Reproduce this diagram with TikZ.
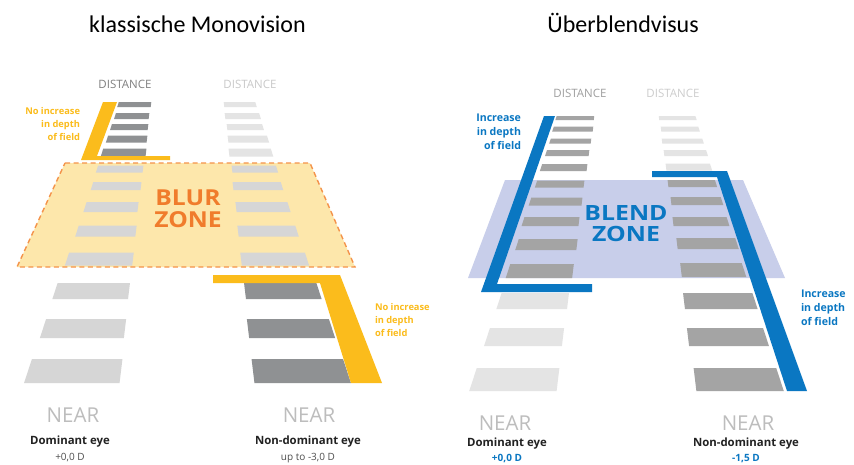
\documentclass[tikz,border=0pt]{standalone}
\usepackage{fontspec}
\usepackage{graphicx}
\setmainfont{Open Sans}
\newfontfamily\titlefont{Carlito}

\definecolor{barDark}{HTML}{8F9193}
\definecolor{barMid}{HTML}{A4A4A4}
\definecolor{barLight}{HTML}{D6D6D6}
\definecolor{barFaint}{HTML}{E4E4E4}
\definecolor{blurFill}{HTML}{FDE7AB}
\definecolor{blurEdge}{HTML}{F4934A}
\definecolor{blurText}{HTML}{F07C2C}
\definecolor{lensYellow}{HTML}{FBBC1C}
\definecolor{lensBlue}{HTML}{0A77C2}
\definecolor{blendFill}{HTML}{C8CEEA}
\definecolor{nearGray}{HTML}{BDBDBD}
\definecolor{labelDark}{HTML}{222222}

% perspective strip of the left-hand column: x-left, x-right, y-centre, height, colour
\newcommand\stripL[5]{%
  \fill[#5] ({#1+0.165*#4},{#3-#4/2}) -- ({#2+0.06*#4},{#3-#4/2})
    -- ({#2-0.06*#4},{#3+#4/2}) -- ({#1-0.165*#4},{#3+#4/2}) -- cycle;}
% perspective strip of the right-hand column
\newcommand\stripR[5]{%
  \fill[#5] ({#1-0.06*#4},{#3-#4/2}) -- ({#2-0.165*#4},{#3-#4/2})
    -- ({#2+0.165*#4},{#3+#4/2}) -- ({#1+0.06*#4},{#3+#4/2}) -- cycle;}
% widened capitals of the zone captions
\newcommand\wide[2]{\scalebox{#1}[1]{#2}}

\tikzset{
  txt/.style={inner sep=0pt, outer sep=0pt},
  title/.style={txt, anchor=base, font=\titlefont\fontsize{24}{28}\selectfont, text=black},
  dist/.style={txt, font=\fontsize{11.5}{13}\selectfont},
  near/.style={txt, font=\fontsize{20.5}{24}\selectfont, text=nearGray},
  eye/.style={txt, font=\bfseries\fontsize{11.4}{13}\selectfont, text=labelDark},
  power/.style={txt, anchor=base, font=\fontsize{10}{12}\selectfont},
  depthY/.style={txt, font=\bfseries\fontsize{9.3}{13}\selectfont, text=lensYellow},
  depthB/.style={txt, font=\bfseries\fontsize{10.6}{14}\selectfont, text=lensBlue},
  zone/.style={txt, align=center},
}

\begin{document}
\begin{tikzpicture}[x=1pt, y=-1pt]
\fill[white] (0,0) rectangle (854,464);
\useasboundingbox (0,0) rectangle (854,464);
\clip (0,0) rectangle (854,464);

% ---------------- classic monovision ----------------
\node[title] (titleL) at (197.5,32) {klassische Monovision};

\node[dist, text=gray] (distL1) at (125,84) {DISTANCE};
\node[dist, text=barLight!85!gray] (distL2) at (250,84) {DISTANCE};

% far strips above the blur zone
\foreach \xl/\xr/\yc/\h in {118/151/104.5/5, 115/149/116/6, 111/148/127/6, 107/147/139/7, 102/146/152.5/8}
  \stripL{\xl}{\xr}{\yc}{\h}{barDark};
\foreach \xl/\xr/\yc/\h in {224/256/104.5/5, 225/260/116/6, 227/263/127/6, 228/268/139/7, 229/272/152.5/8}
  \stripR{\xl}{\xr}{\yc}{\h}{barFaint};

% yellow bracket of the dominant eye
\fill[lensYellow] (103,102) -- (117,102) -- (97,156) -- (170,156) -- (170,160) -- (81,160) -- cycle;
\node[depthY, anchor=east, align=right] (depthL1) at (80,124) {No increase\\in depth\\of field};

% blur zone
\fill[blurFill] (65,163) -- (310,163) -- (355,267) -- (17,267) -- cycle;
\foreach \xl/\xr/\yc/\h in {97/143/169/7, 92/141/186/8, 85/138/207/10, 77/136/231/11, 67/133/259/13}
  \stripL{\xl}{\xr}{\yc}{\h}{barLight};
\foreach \xl/\xr/\yc/\h in {232/277/169/7, 233/282/186/8, 236/289/207/10, 238/297/231/11, 241/307/259/13}
  \stripR{\xl}{\xr}{\yc}{\h}{barLight};
\draw[blurEdge, line width=1.4pt, dash pattern=on 5pt off 3.5pt]
  (65,163) -- (310,163) -- (355,267) -- (17,267) -- cycle;
\node[zone, text=blurText, font=\bfseries\fontsize{22}{22}\selectfont] (blur) at (188,209)
  {\wide{1.12}{BLUR}\\\wide{1.12}{ZONE}};

% near strips below the blur zone
\foreach \xl/\xr/\yc/\h in {55/129/291/16, 43/125/328.5/19, 28/121/371/24}
  \stripL{\xl}{\xr}{\yc}{\h}{barLight};
\foreach \xl/\xr/\yc/\h in {245/319/291/16, 248/332/328.5/19, 253/347/371/24}
  \stripR{\xl}{\xr}{\yc}{\h}{barDark};

% yellow bracket of the non-dominant eye
\fill[lensYellow] (213,275) -- (340,275) -- (382,383) -- (351,383) -- (320,283) -- (213,283) -- cycle;
\node[depthY, anchor=west, align=left] (depthL2) at (375,320) {No increase\\in depth\\of field};

\node[near] (nearL1) at (73,415) {NEAR};
\node[near] (nearL2) at (309,415) {NEAR};
\node[eye] (eyeL1) at (70,442) {Dominant eye};
\node[eye] (eyeL2) at (308,442) {Non-dominant eye};
\node[power, text=labelDark!80] (powL1) at (70,460.5) {+0,0 D};
\node[power, text=labelDark!80] (powL2) at (308,460.5) {up to -3,0 D};

% ---------------- blended vision ----------------
\node[title] (titleR) at (623,32) {Überblendvisus};

\node[dist, text=barMid!85!gray] (distR1) at (580,93) {DISTANCE};
\node[dist, text=barLight!90!gray] (distR2) at (673,93) {DISTANCE};

% blend zone
\fill[blendFill] (505,180) -- (743,180) -- (785,278) -- (468,278) -- cycle;

\foreach \xl/\xr/\yc/\h in {556/594/118/4, 553/593/129/5, 550/591/141/5, 546/589/153/6, 541/587/167.5/7,
                            536/584/184/7, 530/582/201.5/8, 523/579/221.5/9, 517/577/244.5/11, 508/573/271/14}
  \stripL{\xl}{\xr}{\yc}{\h}{barMid};
\foreach \xl/\xr/\yc/\h in {499/568/301/16, 487/563/337/18, 473/558/379.5/23}
  \stripL{\xl}{\xr}{\yc}{\h}{barFaint};

\foreach \xl/\xr/\yc/\h in {659/696/118/4, 661/699/129/5, 662/703/141/5, 664/707/153/6, 666/711/167/7}
  \stripR{\xl}{\xr}{\yc}{\h}{barFaint};
\foreach \xl/\xr/\yc/\h in {668/716/183.5/7, 671/722/201/8, 673/728/221.5/9, 677/737/243.5/11, 681/744/270/14,
                            684/755/301/16, 688/766/337/18, 695/780/379.5/23}
  \stripR{\xl}{\xr}{\yc}{\h}{barMid};

\node[zone, text=lensBlue, font=\bfseries\fontsize{21}{21}\selectfont] (blend) at (626,224)
  {\wide{1.18}{BLEND}\\\wide{1.18}{ZONE}};

% blue brackets of both eyes
\fill[lensBlue] (544,116) -- (555,116) -- (497,284) -- (592,284) -- (592,292) -- (481,292) -- cycle;
\fill[lensBlue] (652,171) -- (727,171) -- (807,391) -- (787,391) -- (717,177) -- (652,177) -- cycle;

\node[depthB, anchor=east, align=right] (depthR1) at (521,132) {Increase\\in depth\\of field};
\node[depthB, anchor=west, align=left] (depthR2) at (801,308) {Increase\\in depth\\of field};

\node[near] (nearR1) at (505,423) {NEAR};
\node[near] (nearR2) at (748,423) {NEAR};
\node[eye] (eyeR1) at (507,444) {Dominant eye};
\node[eye] (eyeR2) at (746,444) {Non-dominant eye};
\node[power, font=\bfseries\fontsize{10}{12}\selectfont, text=lensBlue] (powR1) at (507,461.5) {+0,0 D};
\node[power, font=\bfseries\fontsize{10}{12}\selectfont, text=lensBlue] (powR2) at (746,461.5) {-1,5 D};
\end{tikzpicture}
\end{document}
